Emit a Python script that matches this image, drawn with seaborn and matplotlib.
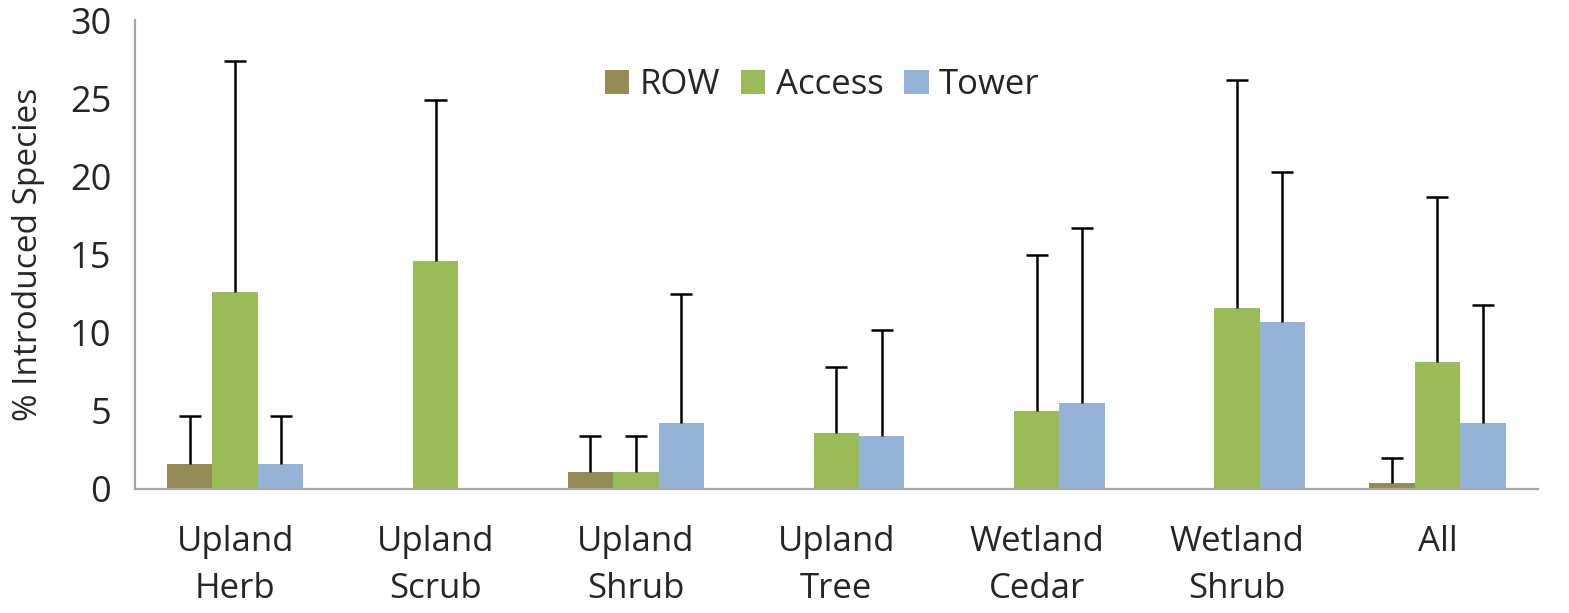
import numpy as np
import pandas as pd
import matplotlib
matplotlib.use("Agg")
import matplotlib.pyplot as plt
import seaborn as sns

# values
habitats = ["Upland\nHerb", "Upland\nScrub", "Upland\nShrub", "Upland\nTree",
            "Wetland\nCedar", "Wetland\nShrub", "All"]
row_mean = [1.6, 0.0, 1.1, 0.0, 0.0, 0.0, 0.4]
row_top = [4.7, 0.0, 3.4, 0.0, 0.0, 0.0, 2.0]
access_mean = [12.6, 14.6, 1.1, 3.6, 5.0, 11.6, 8.1]
access_top = [27.4, 24.9, 3.4, 7.8, 15.0, 26.2, 18.7]
tower_mean = [1.6, 0.0, 4.2, 3.4, 5.5, 10.7, 4.2]
tower_top = [4.7, 0.0, 12.5, 10.2, 16.7, 20.3, 11.8]

series = ["ROW", "Access", "Tower"]
colors = ["#948A54", "#9BBB59", "#95B3D7"]

df = pd.DataFrame({
    "habitat": habitats * 3,
    "site": [s for s in series for _ in habitats],
    "value": row_mean + access_mean + tower_mean,
    "top": row_top + access_top + tower_top,
})

sns.set_style("white")
plt.rcParams["font.family"] = ["Open Sans", "DejaVu Sans"]

fig = plt.figure(figsize=(15.69, 6.13), dpi=100)
ax = fig.add_axes([0.086, 0.2023, 0.894, 0.7647])

sns.barplot(data=df, x="habitat", y="value", hue="site", order=habitats,
            hue_order=series, palette=colors, width=0.68, errorbar=None,
            saturation=1, linewidth=0, ax=ax)

# one-sided error bars: vertical line up from the bar top plus a cap
cap = 0.055
for container, s in zip(ax.containers, series):
    sub = df[df["site"] == s].set_index("habitat").loc[habitats]
    xs = np.array([b.get_x() + b.get_width() / 2 for b in container])
    means = sub["value"].values
    tops = sub["top"].values
    keep = tops > means
    ax.vlines(xs[keep], means[keep], tops[keep], color="black", lw=1.8,
              zorder=3)
    ax.hlines(tops[keep], xs[keep] - cap, xs[keep] + cap, color="black",
              lw=1.8, zorder=3)

ax.set_ylim(0, 30)
ax.set_xlim(-0.5, 6.5)
ax.set_yticks(range(0, 31, 5))
ax.set_xlabel("")
ax.set_ylabel("% Introduced Species", fontsize=24)
ax.yaxis.set_label_coords(-0.064, 0.5)

gray = "#A6A6A6"
for side in ["top", "right"]:
    ax.spines[side].set_visible(False)
for side in ["left", "bottom"]:
    ax.spines[side].set_color(gray)
    ax.spines[side].set_linewidth(1.6)

ax.set_xticks(np.arange(-0.5, 7, 1), minor=True)
ax.tick_params(axis="x", which="major", length=0, labelsize=25, pad=26)
ax.tick_params(axis="x", which="minor", length=9, width=1.6, color=gray,
               direction="out")
ax.tick_params(axis="y", length=9, width=1.6, color=gray, direction="out",
               labelsize=26, pad=8)
for lab in ax.get_xticklabels():
    lab.set_linespacing(1.5)

leg = ax.legend(loc="upper center", bbox_to_anchor=(0.49, 0.965), ncol=3,
                frameon=False, fontsize=25, handlelength=0.7, handleheight=0.7,
                handletextpad=0.3, columnspacing=0.6)

fig.savefig("out.png", dpi=100)
